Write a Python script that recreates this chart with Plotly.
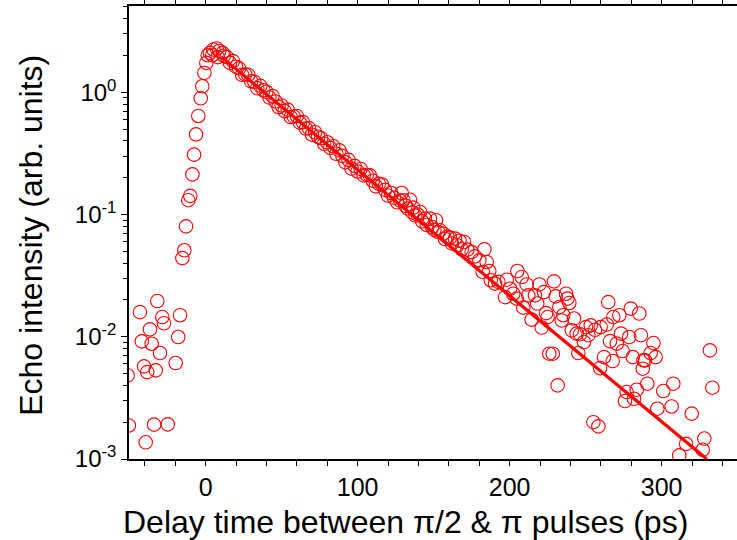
import plotly.graph_objects as go

# ---- data ----
rise_x = [-51.3, -50.5, -43.2, -42.0, -40.5, -39.4, -38.4, -36.6, -35.5, -33.9, -32.8, -31.8,
          -30.0, -28.5, -27.4, -24.9, -19.7, -18.0, -16.8, -15.3, -14.0, -12.9, -11.4, -10.1,
          -8.7, -7.6, -6.3, -4.8, -3.2, -2.2, -0.8, 0.5, 1.4, 2.9, 4.4, 5.1, 7.3, 8.0, 9.0, 11.2]
rise_y = [0.00483, 0.00188, 0.0159, 0.00917, 0.00573, 0.00137, 0.00514, 0.0115, 0.00877, 0.00191,
          0.00531, 0.0196, 0.00736, 0.0145, 0.0129, 0.00192, 0.0061, 0.00995, 0.0150, 0.044,
          0.051, 0.080, 0.131, 0.142, 0.213, 0.309, 0.453, 0.640, 0.893, 1.12, 1.44, 1.74,
          2.01, 2.10, 2.01, 2.24, 2.28, 1.94, 2.18, 2.10]

decay_x = [12, 14, 16, 18, 20, 22, 24, 26, 28, 30, 32, 34, 36, 38, 40, 42, 44, 46, 48, 50,
           52, 54, 56, 58, 60, 62, 64, 66, 68, 70, 72, 74, 76, 78, 80, 82, 84, 86, 88, 90,
           92, 94, 96, 98, 100, 102, 104, 106, 108, 110, 112, 114, 116, 118, 120, 122, 124,
           126, 128]
decay_y = [1.99, 1.94, 1.74, 1.80, 1.62, 1.57, 1.39, 1.40, 1.39, 1.23, 1.22, 1.08, 1.13, 1.04,
           1.01, 0.906, 0.933, 0.841, 0.758, 0.780, 0.702, 0.722, 0.627, 0.633, 0.639, 0.565,
           0.570, 0.505, 0.509, 0.450, 0.471, 0.433, 0.421, 0.379, 0.390, 0.351, 0.362, 0.314,
           0.335, 0.302, 0.267, 0.280, 0.238, 0.250, 0.225, 0.236, 0.209, 0.211, 0.209, 0.189,
           0.170, 0.178, 0.176, 0.159, 0.143, 0.150, 0.137, 0.126, 0.130]

mid_x = [129.0, 130.1, 131.5, 133.0, 134.5, 136.0, 136.6, 138.0, 139.5, 141.1, 142.5, 144.3,
         145.5, 147.6, 149.0, 150.5, 151.6, 153.0, 154.2, 156.4, 157.5, 159.0, 160.8, 162.0,
         164.1, 165.5, 167.0, 168.5]
mid_y = [0.150, 0.131, 0.118, 0.112, 0.132, 0.104, 0.114, 0.098, 0.100, 0.105, 0.088, 0.0925,
         0.082, 0.0925, 0.079, 0.075, 0.0897, 0.072, 0.0743, 0.0697, 0.063, 0.066, 0.0647, 0.058,
         0.0635, 0.056, 0.061, 0.052]

tail_x = [170.0, 172.2, 175.0, 177.2, 180.1, 182.3, 183.4, 184.9, 186.6, 187.6, 190.4, 192.6,
          197.0, 198.1, 200.3, 202.4, 204.7, 205.1, 208.0, 209.0, 211.2, 212.3, 214.5, 216.7,
          218.2, 219.6, 221.1, 222.6, 224.0, 225.0, 226.1, 228.4, 229.2, 230.3, 231.6, 232.7,
          234.3, 235.3, 237.1, 238.0, 239.3, 240.9, 242.4, 244.1, 245.2, 246.3, 248.9, 250.3,
          251.8, 253.4, 255.1, 256.2, 258.4, 259.5, 259.9, 262.1, 263.9, 264.9, 266.1, 267.8,
          268.2, 270.5, 272.2, 273.3, 274.4, 275.9, 277.0, 278.7, 279.7, 281.0, 281.8, 283.6,
          285.3, 286.4, 287.6, 288.0, 289.1, 290.6, 292.8, 294.6, 296.1, 297.2, 301.1, 306.6,
          307.7, 311.6, 316.1, 319.8, 327.0, 328.1, 331.8, 333.4]
tail_y = [0.0596, 0.0516, 0.0493, 0.0455, 0.0422, 0.0339, 0.0519, 0.0409, 0.0345, 0.0290,
          0.0272, 0.0281, 0.0211, 0.0293, 0.0247, 0.0225, 0.0205, 0.0345, 0.0308, 0.0173,
          0.0268, 0.0218, 0.0138, 0.0218, 0.0187, 0.0268, 0.0119, 0.0232, 0.0156, 0.0145,
          0.00727, 0.00727, 0.0284, 0.0214, 0.0040, 0.0175, 0.0136, 0.0150, 0.0225, 0.0205,
          0.0189, 0.0113, 0.0141, 0.0106, 0.00736, 0.0105, 0.00905, 0.0120, 0.0103, 0.0124,
          0.0020, 0.0114, 0.00185, 0.00554, 0.0120, 0.00682, 0.0126, 0.0192, 0.00922, 0.00633,
          0.0145, 0.00878, 0.0150, 0.0106, 0.00764, 0.00298, 0.00353, 0.00995, 0.0170, 0.00682,
          0.00311, 0.00369, 0.0155, 0.0103, 0.00548, 0.00641, 0.00641, 0.00413, 0.00736, 0.00888,
          0.00682, 0.00258, 0.00360, 0.00269, 0.00413, 0.00107, 0.00133, 0.00235, 0.00119,
          0.00147, 0.00774, 0.00383]

fit_x = [10.6, 329.7]
fit_y = [1.94, 0.00100]

x_ticks = [0, 100, 200, 300]
x_tick_text = ["0", "100", "200", "300"]
y_ticks = [1e-3, 1e-2, 1e-1, 1]
y_tick_text = ["10<sup>-3</sup>", "10<sup>-2</sup>", "10<sup>-1</sup>", "10<sup>0</sup>"]
x_title = "Delay time between π/2 & π pulses (ps)"
y_title = "Echo intensity (arb. units)"

x_all = rise_x + decay_x + mid_x + tail_x
y_all = rise_y + decay_y + mid_y + tail_y

RED = "#FF0000"
FONT = "Liberation Sans, Arial, sans-serif"

fig = go.Figure()
fig.add_trace(go.Scatter(
    x=x_all, y=y_all, mode="markers",
    marker=dict(symbol="circle-open", size=13.5, color=RED, line=dict(width=1.1, color=RED)),
    showlegend=False))
fig.add_trace(go.Scatter(
    x=fit_x, y=fit_y, mode="lines",
    line=dict(color=RED, width=3.2), showlegend=False))

minor_y = []
for d in [1e-3, 1e-2, 1e-1, 1]:
    for k in range(2, 10):
        v = d * k
        if v < 5.1:
            minor_y.append(v)

fig.update_layout(
    width=737, height=540,
    margin=dict(l=129, r=0, t=6, b=81),
    paper_bgcolor="white", plot_bgcolor="white",
    font=dict(family=FONT, color="black", size=24),
    xaxis=dict(
        range=[-50.4, 349.6], showgrid=False, zeroline=False,
        showline=True, linecolor="black", linewidth=1.5, mirror="ticks",
        ticks="outside", ticklen=5, tickwidth=1.3, tickcolor="black",
        tickmode="array", tickvals=x_ticks, ticktext=x_tick_text,
        tickfont=dict(size=25, family=FONT),
        minor=dict(tickmode="linear", tick0=0, dtick=20, ticks="outside",
                   ticklen=5, tickwidth=1.3, tickcolor="black"),
    ),
    yaxis=dict(
        type="log", range=[-3, 0.706], showgrid=False, zeroline=False,
        showline=True, linecolor="black", linewidth=1.5,
        ticks="outside", ticklen=6, tickwidth=1.3, tickcolor="black",
        tickmode="array", tickvals=y_ticks, ticktext=y_tick_text,
        tickfont=dict(size=24, family=FONT),
        minor=dict(tickmode="array", tickvals=minor_y, ticks="outside",
                   ticklen=4, tickwidth=1.3, tickcolor="black"),
    ),
    annotations=[
        dict(text=x_title, xref="paper", yref="paper", x=0.454, y=-0.138,
             xanchor="center", yanchor="middle", showarrow=False,
             font=dict(size=32, family=FONT, color="black")),
        dict(text=y_title, xref="paper", yref="paper", x=-0.161, y=0.493,
             xanchor="center", yanchor="middle", showarrow=False, textangle=-90,
             font=dict(size=32, family=FONT, color="black")),
    ],
)

fig.write_html("out.html")
